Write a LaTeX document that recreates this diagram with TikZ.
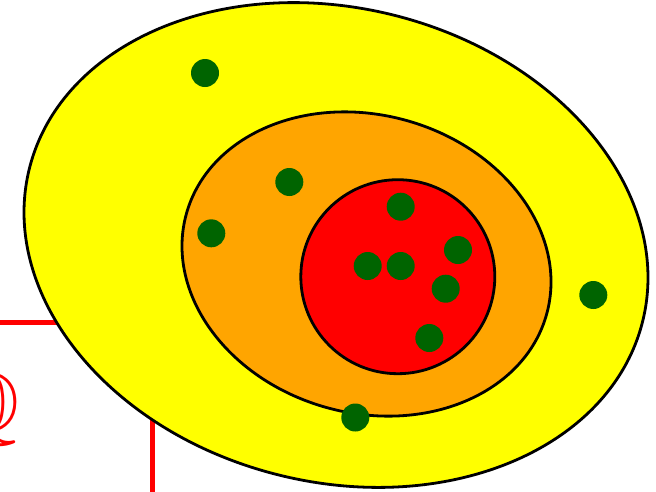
\documentclass[tikz,border=0pt]{standalone}
\usepackage{amssymb}
\definecolor{eggyellow}{RGB}{255,255,0}
\definecolor{eggorange}{RGB}{255,165,0}
\definecolor{eggred}{RGB}{255,0,0}
\definecolor{dotgreen}{RGB}{0,100,0}
\begin{document}
\begin{tikzpicture}[x=1pt,y=-1pt,
  region/.style={draw=black, line width=2.8pt},
  elem/.style={circle, fill=dotgreen, minimum size=28pt, inner sep=0pt},
  frame/.style={draw=eggred, line width=4.5pt}]
\clip (0,0) rectangle (656,491);
\fill[white] (0,0) rectangle (656,491);
% background set frame and label
\draw[frame] (-50,322.7) rectangle (152.7,560);
\node[text=eggred, inner sep=0pt, anchor=base east] (q) at (20,431) {\fontsize{85}{85}\selectfont$\mathbb{Q}$};
% nested regions
\draw[region, fill=eggyellow, rotate around={-14:(336,245)}] (336,245) ellipse [x radius=316pt, y radius=237pt];
\draw[region, fill=eggorange, rotate around={-15.7:(366.5,264)}] (366.5,264) ellipse [x radius=187pt, y radius=149pt];
\draw[region, fill=eggred] (397.8,276.7) circle [radius=97pt];
% elements
\node[elem] (d1) at (205,73) {};
\node[elem] (d2) at (289.3,182) {};
\node[elem] (d3) at (211.3,233.3) {};
\node[elem] (d4) at (400.7,206.7) {};
\node[elem] (d5) at (458,250) {};
\node[elem] (d6) at (367.7,266) {};
\node[elem] (d7) at (400.7,266) {};
\node[elem] (d8) at (445.7,288.7) {};
\node[elem] (d9) at (429.3,338) {};
\node[elem] (d10) at (593.3,295) {};
\node[elem] (d11) at (355.3,417.5) {};
\end{tikzpicture}
\end{document}
